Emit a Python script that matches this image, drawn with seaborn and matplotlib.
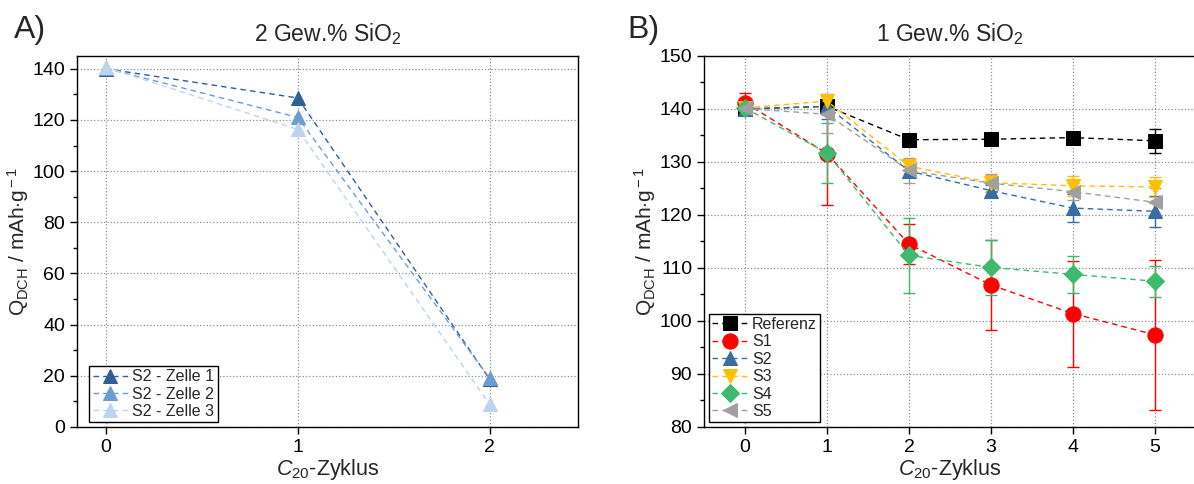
import numpy as np
import pandas as pd
import matplotlib
matplotlib.use("Agg")
import matplotlib.pyplot as plt
from matplotlib.ticker import MultipleLocator
import seaborn as sns

# panel A: 2 Gew.% SiO2, three cells of S2
zyklus_a = [0, 1, 2]
zelle1 = [140.0, 128.6, 18.6]
zelle2 = [140.2, 121.0, 19.0]
zelle3 = [140.6, 116.3, 8.8]
labels_a = ["S2 - Zelle 1", "S2 - Zelle 2", "S2 - Zelle 3"]

# panel B: 1 Gew.% SiO2, mean and std per sample
zyklus_b = [0, 1, 2, 3, 4, 5]
ref = [140.0, 140.5, 134.2, 134.3, 134.6, 134.0]
ref_err = [0.6, 0.8, 0.6, 0.6, 0.9, 2.3]
s1 = [141.2, 131.6, 114.5, 106.8, 101.4, 97.4]
s1_err = [1.9, 9.8, 3.8, 8.5, 10.0, 14.2]
s2 = [140.0, 140.5, 128.3, 124.6, 121.3, 120.7]
s2_err = [0.6, 2.3, 1.0, 1.0, 2.6, 2.9]
s3 = [140.2, 141.5, 129.2, 126.1, 125.5, 125.3]
s3_err = [0.6, 1.0, 1.3, 1.5, 1.9, 1.9]
s4 = [140.2, 131.7, 112.4, 110.1, 108.8, 107.5]
s4_err = [0.8, 5.7, 7.1, 5.2, 3.5, 2.9]
s5 = [140.1, 139.0, 128.4, 126.0, 124.4, 122.4]
s5_err = [0.6, 3.6, 2.4, 1.7, 1.6, 2.7]
labels_b = ["Referenz", "S1", "S2", "S3", "S4", "S5"]

sns.set_theme(style="ticks")
plt.rcParams['font.family'] = ['Liberation Sans', 'DejaVu Sans']
plt.rcParams['mathtext.fontset'] = 'custom'
plt.rcParams['mathtext.rm'] = 'Liberation Sans'
plt.rcParams['mathtext.it'] = 'Liberation Sans:italic'
plt.rcParams['axes.edgecolor'] = 'black'
plt.rcParams['axes.linewidth'] = 1.0
plt.rcParams['xtick.color'] = 'black'
plt.rcParams['ytick.color'] = 'black'

fig = plt.figure(figsize=(11.94, 4.84), dpi=100)
axA = fig.add_axes([0.0645, 0.1178, 0.4196, 0.7665])
axB = fig.add_axes([0.5896, 0.1178, 0.412, 0.7665])

ylab = r"Q$_{\rm DCH}$ / mAh$\cdot$g$^{\rm -1}$"
xlab = r"$\it{C}_{\rm 20}$-Zyklus"

# ---- panel A
cols_a = ["#2f5f96", "#6a9ed3", "#bed4ec"]
for vals, lab, c in zip([zelle1, zelle2, zelle3], labels_a, cols_a):
    sns.lineplot(x=zyklus_a, y=vals, ax=axA, color=c, marker='^', markersize=10,
                 markeredgecolor=c, linestyle=(0, (4, 3)), linewidth=1.0, label=lab,
                 zorder=3)

axA.set_xlim(-0.15, 2.46)
axA.set_ylim(0, 145)
axA.set_xticks([0, 1, 2])
axA.yaxis.set_major_locator(MultipleLocator(20))
axA.yaxis.set_minor_locator(MultipleLocator(10))
axA.set_title("2 Gew.% SiO$_2$", fontsize=16.5, pad=11)
axA.text(-0.125, 1.03, "A)", transform=axA.transAxes, fontsize=23, va='bottom')
legA = axA.legend(loc='lower left', fontsize=11.5, frameon=True, fancybox=False,
                  edgecolor='black', framealpha=1, borderaxespad=0.3, handlelength=2.2,
                  handletextpad=0.3, borderpad=0.2, labelspacing=0.15,
                  bbox_to_anchor=(0.015, 0.0))
legA.get_frame().set_linewidth(1.0)

# ---- panel B
cols_b = ["#000000", "#ff0000", "#3a6ca4", "#ffc000", "#3dba6e", "#a0a0a0"]
marks_b = ['s', 'o', '^', 'v', 'D', '<']
sizes_b = [10, 11, 10, 10, 9, 10]
series_b = [ref, s1, s2, s3, s4, s5]
errs_b = [ref_err, s1_err, s2_err, s3_err, s4_err, s5_err]
for vals, err, lab, c, m, ms in zip(series_b, errs_b, labels_b, cols_b, marks_b, sizes_b):
    axB.errorbar(zyklus_b, vals, yerr=err, fmt='none', ecolor=c, elinewidth=1.0,
                 capsize=4, capthick=1.0, zorder=2)
    sns.lineplot(x=zyklus_b, y=vals, ax=axB, color=c, marker=m, markersize=ms,
                 markeredgecolor=c, linestyle=(0, (4, 3)), linewidth=1.0, label=lab,
                 zorder=3)

axB.set_xlim(-0.5, 5.5)
axB.set_ylim(80, 150)
axB.set_xticks(zyklus_b)
axB.yaxis.set_major_locator(MultipleLocator(10))
axB.yaxis.set_minor_locator(MultipleLocator(5))
axB.set_title("1 Gew.% SiO$_2$", fontsize=16.5, pad=11)
axB.text(-0.155, 1.03, "B)", transform=axB.transAxes, fontsize=23, va='bottom')
legB = axB.legend(loc='lower left', fontsize=11.5, frameon=True, fancybox=False,
                  edgecolor='black', framealpha=1, borderaxespad=0.3, handlelength=2.2,
                  handletextpad=0.3, borderpad=0.2, labelspacing=0.15)
legB.get_frame().set_linewidth(1.0)

for ax in [axA, axB]:
    ax.grid(True, which='major', linestyle=':', color='#8c8c8c', linewidth=0.9)
    ax.set_axisbelow(True)
    ax.tick_params(axis='both', which='major', labelsize=14, direction='out', length=5, width=1)
    ax.tick_params(axis='y', which='minor', direction='out', length=3, width=1)
    ax.set_xlabel(xlab, fontsize=15.5, labelpad=1)
    ax.set_ylabel(ylab, fontsize=15, labelpad=1)
    for sp in ax.spines.values():
        sp.set_visible(True)
        sp.set_color('black')

fig.savefig("out.png", dpi=100)
